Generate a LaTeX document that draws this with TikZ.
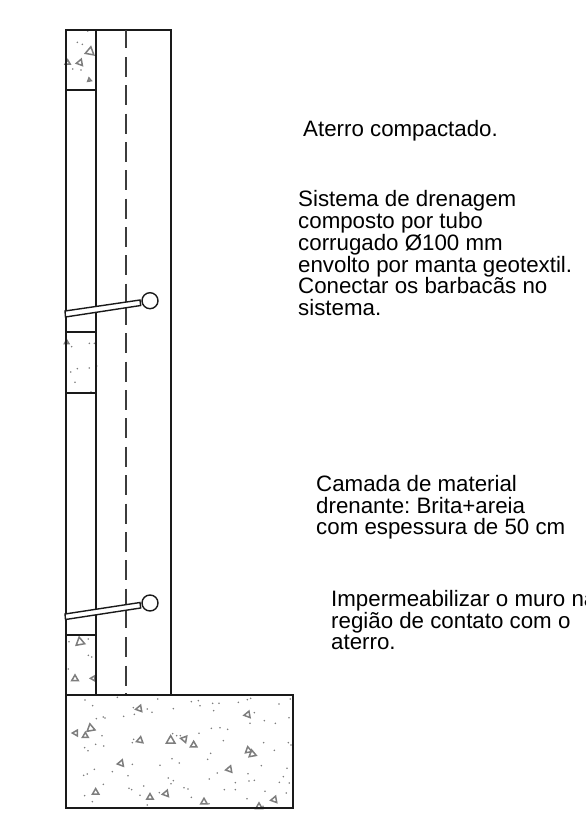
\documentclass[tikz,border=0pt]{standalone}
\usepackage{fontspec}
\setmainfont{Liberation Sans}
\definecolor{hatch}{HTML}{7E7E7E}
\definecolor{ink}{HTML}{1A1A1A}
\newcommand{\dotset}[1]{\foreach \a/\b in {#1}{\fill[hatch] (\a/3,\b/3) circle (0.85);}}
\newcommand{\triset}[1]{\foreach \a/\b/\r/\t in {#1}{\draw[hatch,line width=1.5,line join=miter] (\a/3,\b/3) ++({0-\t}:{1.25*\r/3}) -- ++({150-\t}:{1.25*\r/3*1.732}) -- ++({270-\t}:{1.25*\r/3*1.732}) -- cycle;}}
\tikzset{
  wall/.style={draw=ink,line width=1.4},
  tube/.style={draw=ink,fill=white,line width=1.4},
  drain/.style={draw=ink!85,line width=1.6},
  note/.style={anchor=north west,inner sep=0,align=left,text=black,font=\fontsize{22.3}{21.75}\selectfont}
}
\frenchspacing
\begin{document}
\begin{tikzpicture}[x=1pt,y=-1pt]
\useasboundingbox (0,0) rectangle (586,815);
\clip (0,0) rectangle (586,815);
% hatching
\begin{scope}[shift={(50,20)}]
\dotset{82/67,97/73,68/147,93/150,113/33}
\triset{120/95/12/200,90/128/9/190,53/128/7/90,118/180/5/100}
\end{scope}
\begin{scope}[shift={(50,280)}]
\dotset{65/200,118/190,133/190,62/276,82/266,118/264,140/258,75/307,123/336}
\triset{50/187/6/90}
\end{scope}
\begin{scope}[shift={(50,580)}]
\dotset{57/185,115/177,115/226,125/231,55/267}
\triset{90/186/12/100,75/296/9/90,130/295/7/180}
\end{scope}
\begin{scope}[shift={(55,685)}]
\dotset{90/45,113/62,66/30,187/37,308/42,409/50,430/47,435/62,473/55,492/55,476/77,550/52,577/44,587/40,672/57,706/42,235/68,277/72,291/82,355/71,238/88,206/94,124/101,145/96,150/99,598/83,585/115,628/107,661/115,702/98,469/130,495/128,518/133,432/145,353/146,365/152,376/152,505/167,626/173,700/173,708/180,141/152,236/163,232/173,122/178,146/183,89/188,99/197,658/196,467/205,458/223,351/221,373/234,232/238,315/241,619/242,696/250,118/253,172/260,97/267,86/271,219/272,487/264,579/266,685/275,340/279,355/287,348/296,463/282,582/288,598/286,541/293,673/292,703/294,145/298,266/303,222/310,230/314,387/308,399/312,508/314,541/314,630/319,694/324,313/323,89/332,255/331,409/337,112/350,277/360,576/341,462/356,624/364}
\triset{107/130/11/100,62/144/8/180,91/152/8/90,253/71/9/190,255/166/9/80,347/167/12/90,388/162/9/170,416/180/9/90,198/235/9/190,122/322/9/90,285/337/9/90,333/326/9/190,447/351/9/90,523/253/9/190,578/89/9/190,580/196/9/100,592/207/10/100,658/344/9/190,612/365/9/90}
\end{scope}
% wall
\draw[wall] (66,30) rectangle (171,695);
\draw[wall] (96,30) -- (96,695);
\draw[wall] (66,90) -- (96,90);
\draw[wall] (66,332) -- (96,332);
\draw[wall] (66,393) -- (96,393);
\draw[wall] (66,635) -- (96,635);
% drain line
\foreach \u/\v in {30/48,57/77,85/105,113.5/133.5,142/162,170/190,198.5/218.5,227/247,255/275,283.5/325,333/353,361.5/381.5,390/410,418/438,446.5/466.5,475/495,503.5/523.5,532/552,560/580,588.5/628,637/657,665.5/685.5,693/695}{
  \draw[drain] (126,\u) -- (126,\v);
}
% foundation
\draw[wall] (66,695) rectangle (293,808);
% weep pipes
\draw[tube] (65,311) -- (140,300) -- (140.7,305.5) -- (65.5,317) -- cycle;
\node[draw=ink,line width=1.4,fill=white,circle,minimum size=16,inner sep=0] (p1) at (150,300.7) {};
\draw[tube] (65,614) -- (140,602.5) -- (140.7,608) -- (65.5,619.5) -- cycle;
\node[draw=ink,line width=1.4,fill=white,circle,minimum size=16,inner sep=0] (p2) at (150,603) {};
% notes
\node[note] (n1) at (303,120.5) {Aterro compactado.};
\node[note] (n2) at (298,190.5) {Sistema de drenagem\\composto por tubo\\corrugado Ø100 mm\\envolto por manta geotextil.\\Conectar os barbacãs no\\sistema.};
\node[note] (n3) at (316,475) {Camada de material\\drenante: Brita+areia\\com espessura de 50 cm};
\node[note] (n4) at (331,590) {Impermeabilizar o muro na\\região de contato com o\\aterro.};
\end{tikzpicture}
\end{document}
